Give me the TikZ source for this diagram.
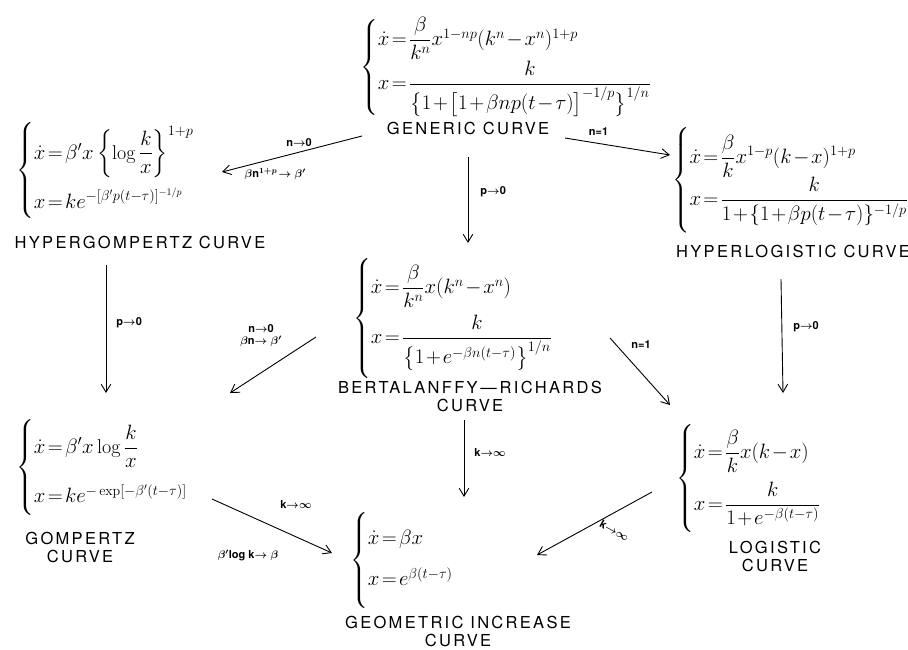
\documentclass[tikz,border=0pt]{standalone}
\usepackage{amsmath,amssymb}
\usepackage{fontspec}
\newfontfamily\capfont[LetterSpace=14]{TeX Gyre Heros}
\newfontfamily\lblfont{TeX Gyre Heros}
\usetikzlibrary{arrows.meta,positioning}
\newcommand{\bh}[1]{\vrule height #1 depth #1 width 0pt\relax}
\newcommand{\tightmath}{\thickmuskip=2mu\relax\medmuskip=1.5mu\relax}

\begin{document}
\begin{tikzpicture}[x=1pt, y=-1pt,
  eq/.style={anchor=west, inner sep=0pt, font=\fontsize{20}{24}\selectfont\tightmath},
  cname/.style={align=center, inner sep=0pt, font=\capfont\fontsize{16.5}{18}\selectfont},
  lbl/.style={inner sep=1pt, align=center, font=\lblfont\bfseries\fontsize{11}{12}\selectfont\boldmath},
  ar/.style={-{Straight Barb[length=2.8mm, width=3.4mm]}, line width=0.9pt}]
\useasboundingbox (0,0) rectangle (908,649);
% equation blocks
\node[eq] (gen) at (360,67) {$\left\{\bh{43pt}\begin{array}{@{}l@{}}
  \dot{x}=\dfrac{\beta}{k^n}x^{1-np}(k^n-x^n)^{1+p}\\[8pt]
  x=\dfrac{k}{\bigl\{1+\bigl[1+\beta np(t-\tau)\bigr]^{-1/p}\bigr\}^{1/n}}
  \end{array}\right.$};
\node[cname] (gencap) at (468,128) {GENERIC CURVE};
\node[eq] (hg) at (16,172) {$\left\{\bh{45pt}\begin{array}{@{}l@{}}
  \dot{x}=\beta' x\left\{\log\dfrac{k}{x}\right\}^{1+p}\\[22pt]
  x=ke^{-[\beta' p(t-\tau)]^{-1/p}}
  \end{array}\right.$};
\node[cname] (hgcap) at (140,242) {HYPERGOMPERTZ CURVE};
\node[eq, font=\fontsize{19.5}{23}\selectfont\tightmath] (hl) at (672,180) {$\left\{\bh{46pt}\begin{array}{@{}l@{}}
  \dot{x}=\dfrac{\beta}{k}x^{1-p}(k-x)^{1+p}\\[4pt]
  x=\dfrac{k}{1+\{1+\beta p(t-\tau)\}^{-1/p}}
  \end{array}\right.$};
\node[cname] (hlcap) at (793,251) {HYPERLOGISTIC CURVE};
\node[eq] (br) at (353,318) {$\left\{\bh{52pt}\begin{array}{@{}l@{}}
  \dot{x}=\dfrac{\beta}{k^n}x(k^n-x^n)\\[14pt]
  x=\dfrac{k}{\bigl\{1+e^{-\beta n(t-\tau)}\bigr\}^{1/n}}
  \end{array}\right.$};
\node[cname] (brcap) at (470,396) {BERTALANFFY\,\textemdash\,RICHARDS\\CURVE};
\node[eq] (gz) at (16,468) {$\left\{\bh{44pt}\begin{array}{@{}l@{}}
  \dot{x}=\beta' x\log\dfrac{k}{x}\\[24pt]
  x=ke^{-\exp[-\beta'(t-\tau)]}
  \end{array}\right.$};
\node[cname] (gzcap) at (80,547) {GOMPERTZ\\CURVE};
\node[eq] (lg) at (676,478) {$\left\{\bh{46pt}\begin{array}{@{}l@{}}
  \dot{x}=\dfrac{\beta}{k}x(k-x)\\[16pt]
  x=\dfrac{k}{1+e^{-\beta(t-\tau)}}
  \end{array}\right.$};
\node[cname] (lgcap) at (775,556) {LOGISTIC\\CURVE};
\node[eq] (gm) at (350,561) {$\left\{\bh{44pt}\begin{array}{@{}l@{}}
  \dot{x}=\beta x\\[16pt]
  x=e^{\beta(t-\tau)}
  \end{array}\right.$};
\node[cname] (gmcap) at (458,631) {GEOMETRIC INCREASE\\CURVE};
% limits
\draw[ar] ([shift={(-106,8)}]gencap.center) -- ([shift={(206,0)}]hg.west)
  node[lbl, pos=0.45, above=4pt] {n$\rightarrow$0}
  node[lbl, pos=0.62, below=8pt] {$\beta$n$^{1+p}\!\rightarrow\beta'$};
\draw[ar] ([shift={(97,10)}]gencap.center) -- ([shift={(-2,-25)}]hl.west)
  node[lbl, pos=0.32, above=6pt] {n=1};
\draw[ar] ([shift={(0,29)}]gencap.center) -- ([shift={(115,-75)}]br.west)
  node[lbl, pos=0.4, right=11pt] {p$\rightarrow$0};
\draw[ar] ([shift={(-34,23)}]hgcap.center) -- ([shift={(90,-75)}]gz.west)
  node[lbl, pos=0.45, right=9pt] {p$\rightarrow$0};
\draw[ar] ([shift={(-37,19)}]br.west) -- ([shift={(214,-75)}]gz.west)
  node[lbl, pos=0.3, above left=6pt and 7pt] {n$\rightarrow$0\\$\beta$n$\rightarrow\beta'$};
\draw[ar] ([shift={(257,20)}]br.west) -- ([shift={(-6,-73)}]lg.west)
  node[lbl, pos=0.1, right=14pt] {n=1};
\draw[ar] ([shift={(-12,28)}]hlcap.center) -- ([shift={(107,-85)}]lg.west)
  node[lbl, pos=0.42, right=10pt] {p$\rightarrow$0};
\draw[ar] ([shift={(-6,24)}]brcap.center) -- ([shift={(114,-64)}]gm.west)
  node[lbl, pos=0.42, right=9pt] {k$\rightarrow$$\infty$};
\draw[ar] ([shift={(196,31)}]gz.west) -- ([shift={(-18,-8)}]gm.west)
  node[lbl, pos=0.7, above=27pt] {k$\rightarrow$$\infty$}
  node[lbl, pos=0.3, below=33pt] {$\beta'$log k$\rightarrow\beta$};
\draw[ar] ([shift={(-24,14)}]lg.west) -- ([shift={(187,-6)}]gm.west)
  node[lbl, pos=0.2, rotate=-29, yshift=-30pt] {k$\rightarrow$$\infty$};
\end{tikzpicture}
\end{document}
